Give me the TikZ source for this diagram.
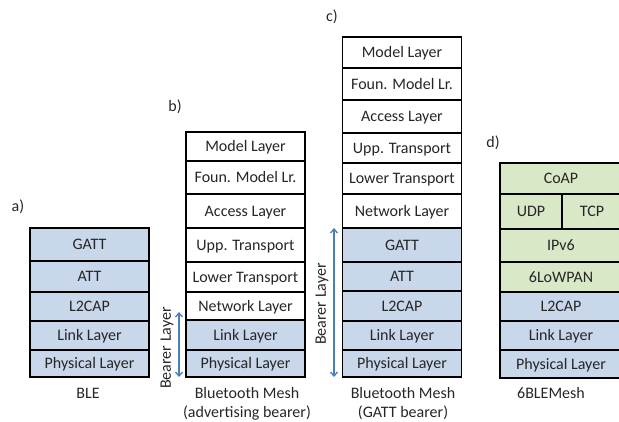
\documentclass[tikz,border=0pt]{standalone}
\usepackage{fontspec}
\setmainfont{Carlito}
\usetikzlibrary{arrows.meta}

\definecolor{blefill}{HTML}{C9D7EB}
\definecolor{ipfill}{HTML}{D9E8C6}
\definecolor{bearerblue}{HTML}{4A7EBB}
\definecolor{txtgray}{HTML}{262626}

\begin{document}
\begin{tikzpicture}[x=1pt,y=-1pt,
    lyr/.style={draw=black,line width=1.1pt,inner sep=0pt,minimum width=119pt,
      text=txtgray,text height=11pt,text depth=0.6pt,font=\fontsize{16}{19}\selectfont},
    ble/.style={lyr,fill=blefill},
    mesh/.style={lyr,fill=white},
    ip/.style={lyr,fill=ipfill},
    lbl/.style={text=txtgray,inner sep=0pt,font=\fontsize{16}{19}\selectfont},
    bearer/.style={bearerblue,line width=1.3pt,
      {Straight Barb[length=4pt,width=7pt]}-{Straight Barb[length=4pt,width=7pt]}}]
  \useasboundingbox (0,0) rectangle (619,421);
  \clip (0,0) rectangle (619,421);

  % a) BLE
  \node[lbl] (alab) at (18,207) {a)};
  \node[ble,minimum height=33] (aGATT) at (89.5,244.5) {GATT};
  \node[ble,minimum height=31] (aATT) at (89.5,276.5) {ATT};
  \node[ble,minimum height=29] (aL2CAP) at (89.5,306.5) {L2CAP};
  \node[ble,minimum height=29] (aLink) at (89.5,335.5) {Link Layer};
  \node[ble,minimum height=27] (aPhy) at (89.5,363.5) {Physical Layer};
  \node[lbl] (aname) at (88,393) {BLE};

  % b) Bluetooth Mesh, advertising bearer
  \node[lbl] (blab) at (175,107) {b)};
  \node[mesh,minimum height=29] (bModel) at (245.5,146.5) {Model Layer};
  \node[mesh,minimum height=33] (bFoun) at (245.5,177.5) {Foun. Model Lr.};
  \node[mesh,minimum height=34] (bAccess) at (245.5,211) {Access Layer};
  \node[mesh,minimum height=34] (bUpp) at (245.5,245) {Upp. Transport};
  \node[mesh,minimum height=30] (bLower) at (245.5,277) {Lower Transport};
  \node[mesh,minimum height=28] (bNet) at (245.5,306) {Network Layer};
  \node[ble,minimum height=30] (bLink) at (245.5,335) {Link Layer};
  \node[ble,minimum height=27] (bPhy) at (245.5,363.5) {Physical Layer};
  \node[lbl] (bname) at (247,393) {Bluetooth Mesh};
  \node[lbl] (bsub) at (247,413) {(advertising bearer)};
  \coordinate (bTop) at (179,312);
  \coordinate (bBot) at (179,377);
  \draw[bearer] (bTop) -- (bBot);
  \node[lbl,rotate=90] (bbearer) at (167,348) {Bearer Layer};

  % c) Bluetooth Mesh, GATT bearer
  \node[lbl] (clab) at (332,17) {c)};
  \node[mesh,minimum height=31] (cModel) at (402,52.5) {Model Layer};
  \node[mesh,minimum height=32] (cFoun) at (402,84) {Foun. Model Lr.};
  \node[mesh,minimum height=33] (cAccess) at (402,116.5) {Access Layer};
  \node[mesh,minimum height=30] (cUpp) at (402,148) {Upp. Transport};
  \node[mesh,minimum height=31] (cLower) at (402,178.5) {Lower Transport};
  \node[mesh,minimum height=34] (cNet) at (402,211) {Network Layer};
  \node[ble,minimum height=34] (cGATT) at (402,245) {GATT};
  \node[ble,minimum height=29] (cATT) at (402,276.5) {ATT};
  \node[ble,minimum height=30] (cL2CAP) at (402,306) {L2CAP};
  \node[ble,minimum height=29] (cLink) at (402,335.5) {Link Layer};
  \node[ble,minimum height=27] (cPhy) at (402,363.5) {Physical Layer};
  \node[lbl] (cname) at (403,393) {Bluetooth Mesh};
  \node[lbl] (csub) at (403,413) {(GATT bearer)};
  \coordinate (cTop) at (334,228);
  \coordinate (cBot) at (334,377);
  \draw[bearer] (cTop) -- (cBot);
  \node[lbl,rotate=90] (cbearer) at (322,304) {Bearer Layer};

  % d) 6BLEMesh
  \node[lbl] (dlab) at (493,143) {d)};
  \node[ip,minimum height=31,minimum width=122] (dCoAP) at (561,178.5) {CoAP};
  \node[ip,minimum height=35,minimum width=62] (dUDP) at (531,211.5) {UDP};
  \node[ip,minimum height=35,minimum width=60] (dTCP) at (592,211.5) {TCP};
  \node[ip,minimum height=33,minimum width=122] (dIP) at (561,245.5) {IPv6};
  \node[ip,minimum height=30,minimum width=122] (dLow) at (561,277) {6LoWPAN};
  \node[ble,minimum height=29,minimum width=122] (dL2CAP) at (561,306.5) {L2CAP};
  \node[ble,minimum height=29,minimum width=122] (dLink) at (561,335.5) {Link Layer};
  \node[ble,minimum height=28,minimum width=122] (dPhy) at (561,364) {Physical Layer};
  \node[lbl] (dname) at (551,393) {6BLEMesh};
\end{tikzpicture}
\end{document}
